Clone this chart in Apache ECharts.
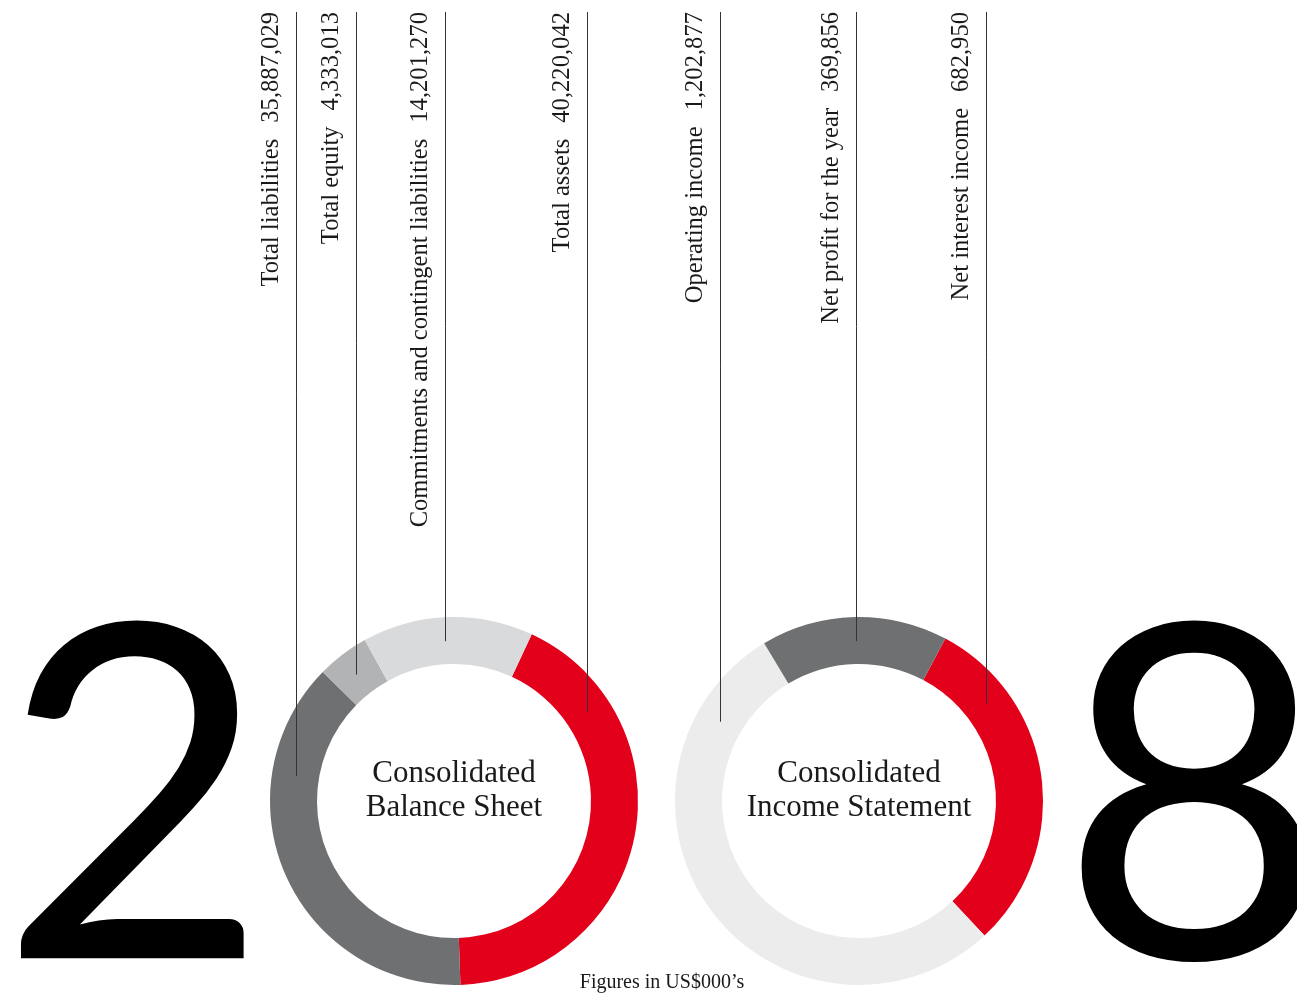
<!DOCTYPE html>
<html><head><meta charset="utf-8">
<script src="https://cdn.jsdelivr.net/npm/echarts@6/dist/echarts.min.js"></script>
<style>html,body{margin:0;padding:0;background:#fff}#c{width:1297px;height:994px}</style>
</head><body><div id="c"></div>
<script>
// ---- data ----
const balanceNames = ['Total assets', 'Total liabilities', 'Total equity', 'Commitments and contingent liabilities'];
const balanceValues = [40220042, 35887029, 4333013, 14201270];
const incomeNames = ['Net interest income', 'Operating income', 'Net profit for the year'];
const incomeValues = [682950, 1202877, 369856];
const yearDigits = ['2', '8'];
const centerTitles = ['Consolidated\nBalance Sheet', 'Consolidated\nIncome Statement'];
const footnote = 'Figures in US$000\u2019s';

// ---- layout / style ----
const SERIF = '"Liberation Serif", "DejaVu Serif", serif';
const CX = [454, 859], CY = 801, R_OUT = 184, R_IN = 137, R_MID = 160;
const leaderX = [[587, 296, 356, 445], [986, 720, 856]];
const LABEL_TOP = 12, LABEL_OFFSET = 24;
const balanceColors = ['#e2001a', '#6f7072', '#b2b3b5', '#d9dadc'];
const incomeColors = ['#e2001a', '#ebeceb', '#6f7072'];
const TEXT_COLOR = '#1a1a1a';

function pieSeries(idx, names, values, colors, startAngle, withLabels) {
  return {
    type: 'pie',
    z: withLabels ? 5 : 2,
    center: [CX[idx], CY],
    radius: [R_IN, R_OUT],
    startAngle: startAngle,
    clockwise: true,
    silent: true,
    animation: false,
    avoidLabelOverlap: false,
    emphasis: { disabled: true },
    itemStyle: { borderWidth: 0 },
    label: {
      show: withLabels,
      position: 'outside',
      formatter: p => '{n|' + p.name + '}{v|' + p.value.toLocaleString('en-US') + '}',
      rich: {
        n: { fontFamily: SERIF, fontSize: 24.6, color: TEXT_COLOR },
        v: { fontFamily: SERIF, fontSize: 24.6, color: TEXT_COLOR, padding: [0, 0, 0, 16] }
      }
    },
    labelLine: { show: withLabels, showAbove: true, length: 10, length2: 10, lineStyle: { color: '#333333', width: 1 } },
    labelLayout: withLabels ? function (params) {
      const x = leaderX[idx][params.dataIndex];
      const dx = x - CX[idx];
      const yEnd = CY - Math.sqrt(Math.max(0, R_MID * R_MID - dx * dx));
      const px = x + 0.5;
      return {
        x: x - LABEL_OFFSET,
        y: LABEL_TOP,
        rotate: 90,
        align: 'right',
        verticalAlign: 'middle',
        labelLinePoints: [[px, yEnd], [px, (yEnd + LABEL_TOP) / 2], [px, LABEL_TOP]]
      };
    } : null,
    data: names.map((n, i) => ({
      name: n, value: values[i],
      itemStyle: { color: withLabels ? 'rgba(0,0,0,0)' : colors[i] }
    }))
  };
}

const chart = echarts.init(document.getElementById('c'), null, { renderer: 'canvas' });
chart.setOption({
  backgroundColor: '#ffffff',
  animation: false,
  series: [
    pieSeries(0, balanceNames, balanceValues, balanceColors, 65, false),
    pieSeries(1, incomeNames, incomeValues, incomeColors, 62, false),
    pieSeries(0, balanceNames, balanceValues, balanceColors, 65, true),
    pieSeries(1, incomeNames, incomeValues, incomeColors, 62, true)
  ],
  graphic: [
    { type: 'text', x: -1, y: 808, z: 1, silent: true,
      style: { text: yearDigits[0], fontFamily: 'Lato', fontSize: 466, fill: '#000', align: 'left', verticalAlign: 'middle' } },
    { type: 'text', x: 1059, y: 808, z: 1, silent: true,
      style: { text: yearDigits[1], fontFamily: 'Lato', fontSize: 466, fill: '#000', align: 'left', verticalAlign: 'middle' } },
    { type: 'text', x: CX[0], y: 791, silent: true,
      style: { text: centerTitles[0], fontFamily: SERIF, fontSize: 31, lineHeight: 34, fill: TEXT_COLOR, align: 'center', verticalAlign: 'middle' } },
    { type: 'text', x: CX[1], y: 791, silent: true,
      style: { text: centerTitles[1], fontFamily: SERIF, fontSize: 31, lineHeight: 34, fill: TEXT_COLOR, align: 'center', verticalAlign: 'middle' } },
    { type: 'text', x: 662, y: 983, silent: true,
      style: { text: footnote, fontFamily: SERIF, fontSize: 20, fill: TEXT_COLOR, align: 'center', verticalAlign: 'middle' } }
  ]
});
</script>
</body></html>
